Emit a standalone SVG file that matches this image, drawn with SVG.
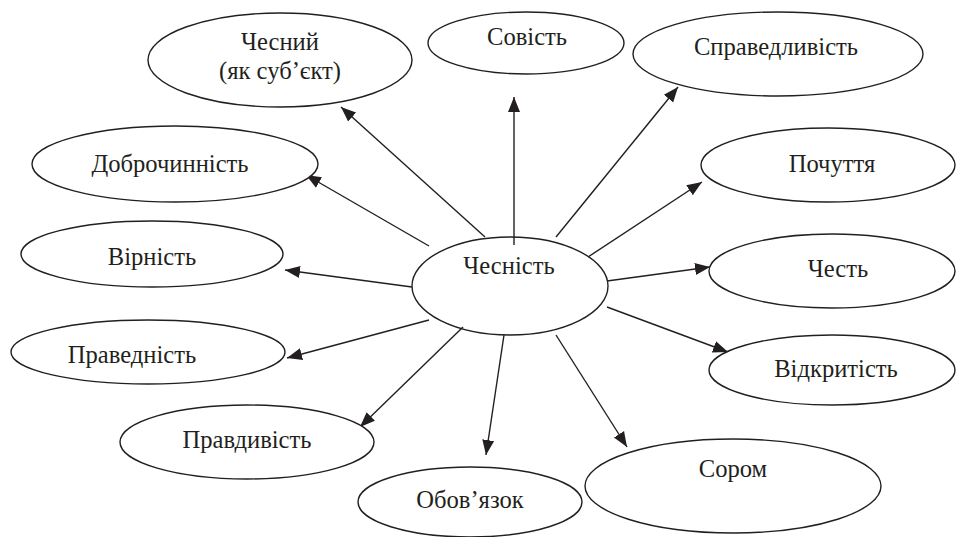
<svg xmlns="http://www.w3.org/2000/svg" width="956" height="537" viewBox="0 0 956 537" font-family="'Liberation Serif', 'Times New Roman', 'DejaVu Serif', serif">
<style>
.n{fill:#fff;stroke:#231f20;stroke-width:1.4}
.t{font-family:'Liberation Serif','Times New Roman','DejaVu Serif',serif;font-size:24.6px;fill:#231f20;text-anchor:middle}
.c{stroke:#231f20;stroke-width:1.4;fill:none;marker-end:url(#ah)}
</style>
<defs>
<marker id="ah" markerUnits="userSpaceOnUse" markerWidth="16" markerHeight="14" refX="15" refY="7" orient="auto">
<path d="M0,1 L15,7 L0,13 z" fill="#231f20"/>
</marker>
</defs>
<rect width="956" height="537" fill="#fff"/>
<g id="connectors">
<line class="c" x1="485" y1="237" x2="341" y2="107"/>
<line class="c" x1="514" y1="245" x2="514" y2="97"/>
<line class="c" x1="556" y1="237" x2="678" y2="87"/>
<line class="c" x1="588" y1="257" x2="702" y2="182"/>
<line class="c" x1="607" y1="281" x2="710" y2="267"/>
<line class="c" x1="607" y1="307" x2="728" y2="352"/>
<line class="c" x1="556" y1="335" x2="627" y2="447"/>
<line class="c" x1="504" y1="335" x2="486" y2="455"/>
<line class="c" x1="463" y1="327" x2="360" y2="427"/>
<line class="c" x1="429" y1="320" x2="287" y2="358"/>
<line class="c" x1="412" y1="287" x2="285" y2="270"/>
<line class="c" x1="429" y1="246" x2="306" y2="175"/>
</g>
<g id="chesnist">
<ellipse class="n" cx="510" cy="286" rx="98" ry="49" style="fill:none"/>
<text class="t" x="509" y="274">Чесність</text>
</g>
<g id="chesnyi">
<ellipse class="n" cx="280" cy="60" rx="132" ry="47"/>
<text class="t" x="280" y="50">Чесний</text>
<text class="t" x="280" y="79">(як суб’єкт)</text>
</g>
<g id="sovist">
<ellipse class="n" cx="526" cy="43" rx="98" ry="31"/>
<text class="t" x="527" y="45">Совість</text>
</g>
<g id="spravedlyvist">
<ellipse class="n" cx="778" cy="54" rx="145" ry="42"/>
<text class="t" x="776" y="55">Справедливість</text>
</g>
<g id="pochuttia">
<ellipse class="n" cx="828" cy="165" rx="127" ry="37"/>
<text class="t" x="832" y="172">Почуття</text>
</g>
<g id="chest">
<ellipse class="n" cx="832" cy="271" rx="123" ry="37"/>
<text class="t" x="838" y="277">Честь</text>
</g>
<g id="vidkrytist">
<ellipse class="n" cx="832" cy="370" rx="123" ry="35"/>
<text class="t" x="836" y="377">Відкритість</text>
</g>
<g id="sorom">
<ellipse class="n" cx="733" cy="486" rx="148" ry="47"/>
<text class="t" x="733" y="477">Сором</text>
</g>
<g id="oboviazok">
<ellipse class="n" cx="470" cy="502" rx="112" ry="35"/>
<text class="t" x="470" y="508">Обов’язок</text>
</g>
<g id="pravdyvist">
<ellipse class="n" cx="247" cy="442" rx="127" ry="37"/>
<text class="t" x="247" y="448">Правдивість</text>
</g>
<g id="pravednist">
<ellipse class="n" cx="148" cy="352" rx="137" ry="32"/>
<text class="t" x="132" y="363">Праведність</text>
</g>
<g id="virnist">
<ellipse class="n" cx="152" cy="254" rx="131" ry="33"/>
<text class="t" x="152" y="265">Вірність</text>
</g>
<g id="dobrochynnist">
<ellipse class="n" cx="175" cy="164" rx="143" ry="38"/>
<text class="t" x="170" y="172">Доброчинність</text>
</g>
</svg>
